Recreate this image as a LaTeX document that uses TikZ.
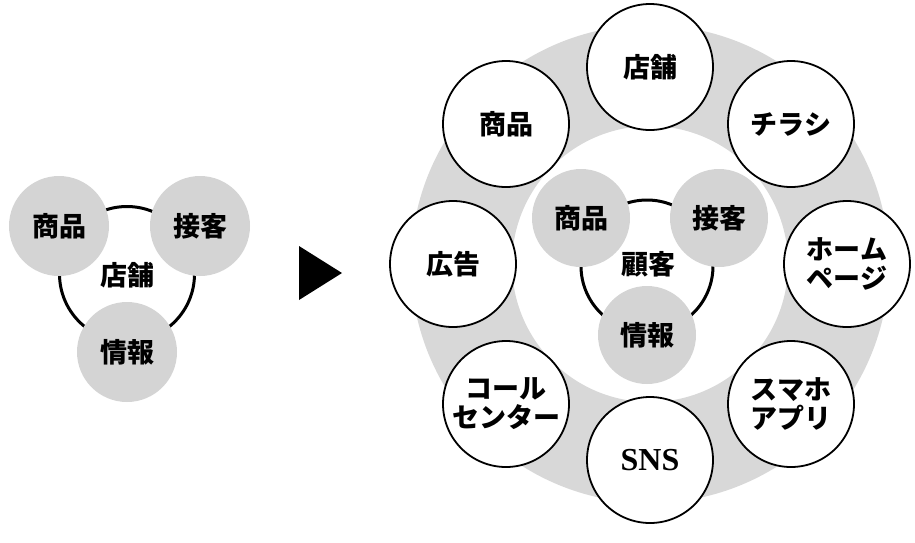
\documentclass[tikz,border=0pt]{standalone}
\usepackage{fontspec}
\newfontfamily\jp{Noto Sans CJK JP}
\newfontfamily\lat{Liberation Serif}
\definecolor{ringgray}{RGB}{216,216,216}
\definecolor{dotgray}{RGB}{212,212,212}
\begin{document}
\begin{tikzpicture}[x=1pt,y=-1pt,
  lbl/.style={font=\jp\bfseries\fontsize{27}{29}\selectfont, align=center},
  graydot/.style={circle, fill=dotgray, minimum size=100pt, inner sep=0pt, lbl},
  whitecirc/.style={circle, draw=black, line width=1.8pt, fill=white, minimum size=126pt, inner sep=0pt, lbl},
  arcline/.style={line width=3pt, draw=black}]
\useasboundingbox (0,0) rectangle (915,542);
% left cluster
\coordinate (lc) at (127,274);
\draw[arcline] (lc) circle (67.5);
\node[graydot] (lgoods) at (59,226) {商品};
\node[graydot] (lserv) at (200,226) {接客};
\node[graydot] (linfo) at (127,352) {情報};
\node[lbl] (lstore) at (127,275) {店舗};
% arrow triangle
\coordinate (t1) at (299,246);
\coordinate (t2) at (299,300);
\coordinate (t3) at (342,273);
\fill[black] (t1) -- (t3) -- (t2) -- cycle;
% ring
\coordinate (rc) at (650,264);
\fill[ringgray, even odd rule] (rc) circle (239) (rc) circle (138);
% orbit circles
\node[whitecirc] (store) at (650,67) {店舗};
\node[whitecirc] (flyer) at (791,124) {チラシ};
\node[whitecirc] (home) at (847,264) {ホーム\\ページ};
\node[whitecirc] (app) at (791,404) {スマホ\\アプリ};
\node[whitecirc, font=\lat\bfseries\fontsize{32}{34}\selectfont] (sns) at (650,460) {SNS};
\node[whitecirc] (call) at (506,404) {コール\\センター};
\node[whitecirc] (ad) at (453,264) {広告};
\node[whitecirc] (goods) at (506,124) {商品};
% inner cluster
\coordinate (ic) at (647,266);
\draw[arcline] (ic) circle (66);
\node[graydot, minimum size=98pt] (igoods) at (581,218) {商品};
\node[graydot, minimum size=98pt] (iserv) at (719,218) {接客};
\node[graydot, minimum size=98pt] (iinfo) at (647,335) {情報};
\node[lbl] (icust) at (648,264) {顧客};
\end{tikzpicture}
\end{document}
